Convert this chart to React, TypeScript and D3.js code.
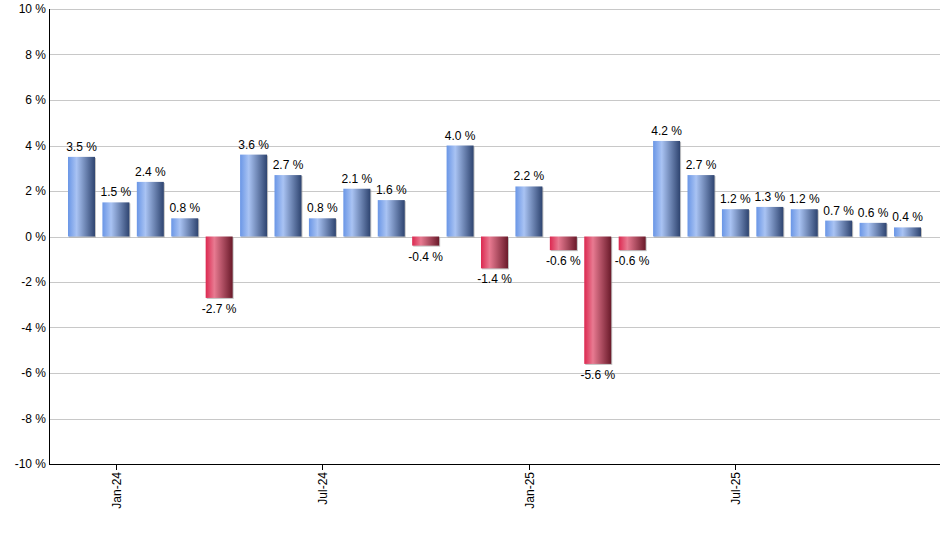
import React from "react";
import * as d3 from "d3";

const months = [
  "Dec-23", "Jan-24", "Feb-24", "Mar-24", "Apr-24", "May-24", "Jun-24", "Jul-24",
  "Aug-24", "Sep-24", "Oct-24", "Nov-24", "Dec-24", "Jan-25", "Feb-25", "Mar-25",
  "Apr-25", "May-25", "Jun-25", "Jul-25", "Aug-25", "Sep-25", "Oct-25", "Nov-25", "Dec-25",
];
const returns = [
  3.5, 1.5, 2.4, 0.8, -2.7, 3.6, 2.7, 0.8, 2.1, 1.6, -0.4, 4.0, -1.4,
  2.2, -0.6, -5.6, -0.6, 4.2, 2.7, 1.2, 1.3, 1.2, 0.7, 0.6, 0.4,
];
const xTickLabels = ["Jan-24", "Jul-24", "Jan-25", "Jul-25"];
const yTicks = [-10, -8, -6, -4, -2, 0, 2, 4, 6, 8, 10];

const width = 940;
const height = 550;
const marginLeft = 49;
const marginTop = 9;
const plotRight = 940;
const plotBottom = 464;
const font = "'Liberation Sans', Arial, sans-serif";

export default function App() {
  const x = d3
    .scaleBand<string>()
    .domain(months)
    .range([marginLeft, plotRight])
    .paddingInner(0.216)
    .paddingOuter(0.552);
  const y = d3.scaleLinear().domain([-10, 10]).range([plotBottom, marginTop]);
  const bw = x.bandwidth();

  return (
    <svg
      width={width}
      height={height}
      style={{ position: "absolute", left: 0, top: 0, display: "block" }}
      fontFamily={font}
    >
      <defs>
        <linearGradient id="blueGrad" x1="0" x2="1" y1="0" y2="0">
          <stop offset="0%" stopColor="#6a96e6" />
          <stop offset="32%" stopColor="#a9c3f3" />
          <stop offset="100%" stopColor="#2e4470" />
        </linearGradient>
        <linearGradient id="redGrad" x1="0" x2="1" y1="0" y2="0">
          <stop offset="0%" stopColor="#dc2850" />
          <stop offset="32%" stopColor="#e87a91" />
          <stop offset="100%" stopColor="#6a1a2a" />
        </linearGradient>
      </defs>

      {/* grid */}
      {yTicks.map((t) => (
        <line
          key={t}
          x1={marginLeft}
          x2={plotRight}
          y1={Math.round(y(t)) + 0.5}
          y2={Math.round(y(t)) + 0.5}
          stroke="#c8c8c8"
          strokeWidth={1}
        />
      ))}

      {/* bars */}
      {returns.map((v, i) => {
        const x0 = x(months[i])!;
        const top = y(Math.max(0, v));
        const h = Math.abs(y(v) - y(0));
        return (
          <g key={i}>
            <rect x={x0 + 1} y={top + 1} width={bw} height={h} fill="#9a9a9a" opacity={0.6} />
            <rect x={x0} y={top} width={bw} height={h} fill={v >= 0 ? "url(#blueGrad)" : "url(#redGrad)"} />
          </g>
        );
      })}

      {/* value labels */}
      {returns.map((v, i) => (
        <text
          key={i}
          x={x(months[i])! + bw / 2}
          y={v >= 0 ? y(v) - 6 : y(v) + 15}
          textAnchor="middle"
          fontSize={12}
          fill="#000"
        >
          {v.toFixed(1)} %
        </text>
      ))}

      {/* y axis */}
      <line x1={marginLeft + 0.5} x2={marginLeft + 0.5} y1={marginTop} y2={plotBottom} stroke="#000" />
      {yTicks.map((t) => (
        <text
          key={t}
          x={marginLeft - 3}
          y={y(t) + 4}
          textAnchor="end"
          fontSize={12}
          fill="#000"
        >
          {t} %
        </text>
      ))}

      {/* x axis */}
      <line x1={marginLeft} x2={plotRight} y1={plotBottom + 0.5} y2={plotBottom + 0.5} stroke="#000" />
      {xTickLabels.map((m) => {
        const cx = Math.round(x(m)! + bw / 2) + 0.5;
        return (
          <g key={m}>
            <line x1={cx} x2={cx} y1={plotBottom} y2={plotBottom + 6} stroke="#000" />
            <text
              transform={`translate(${cx + 4},${plotBottom + 8}) rotate(-90)`}
              textAnchor="end"
              fontSize={12}
              fill="#000"
            >
              {m}
            </text>
          </g>
        );
      })}
    </svg>
  );
}
